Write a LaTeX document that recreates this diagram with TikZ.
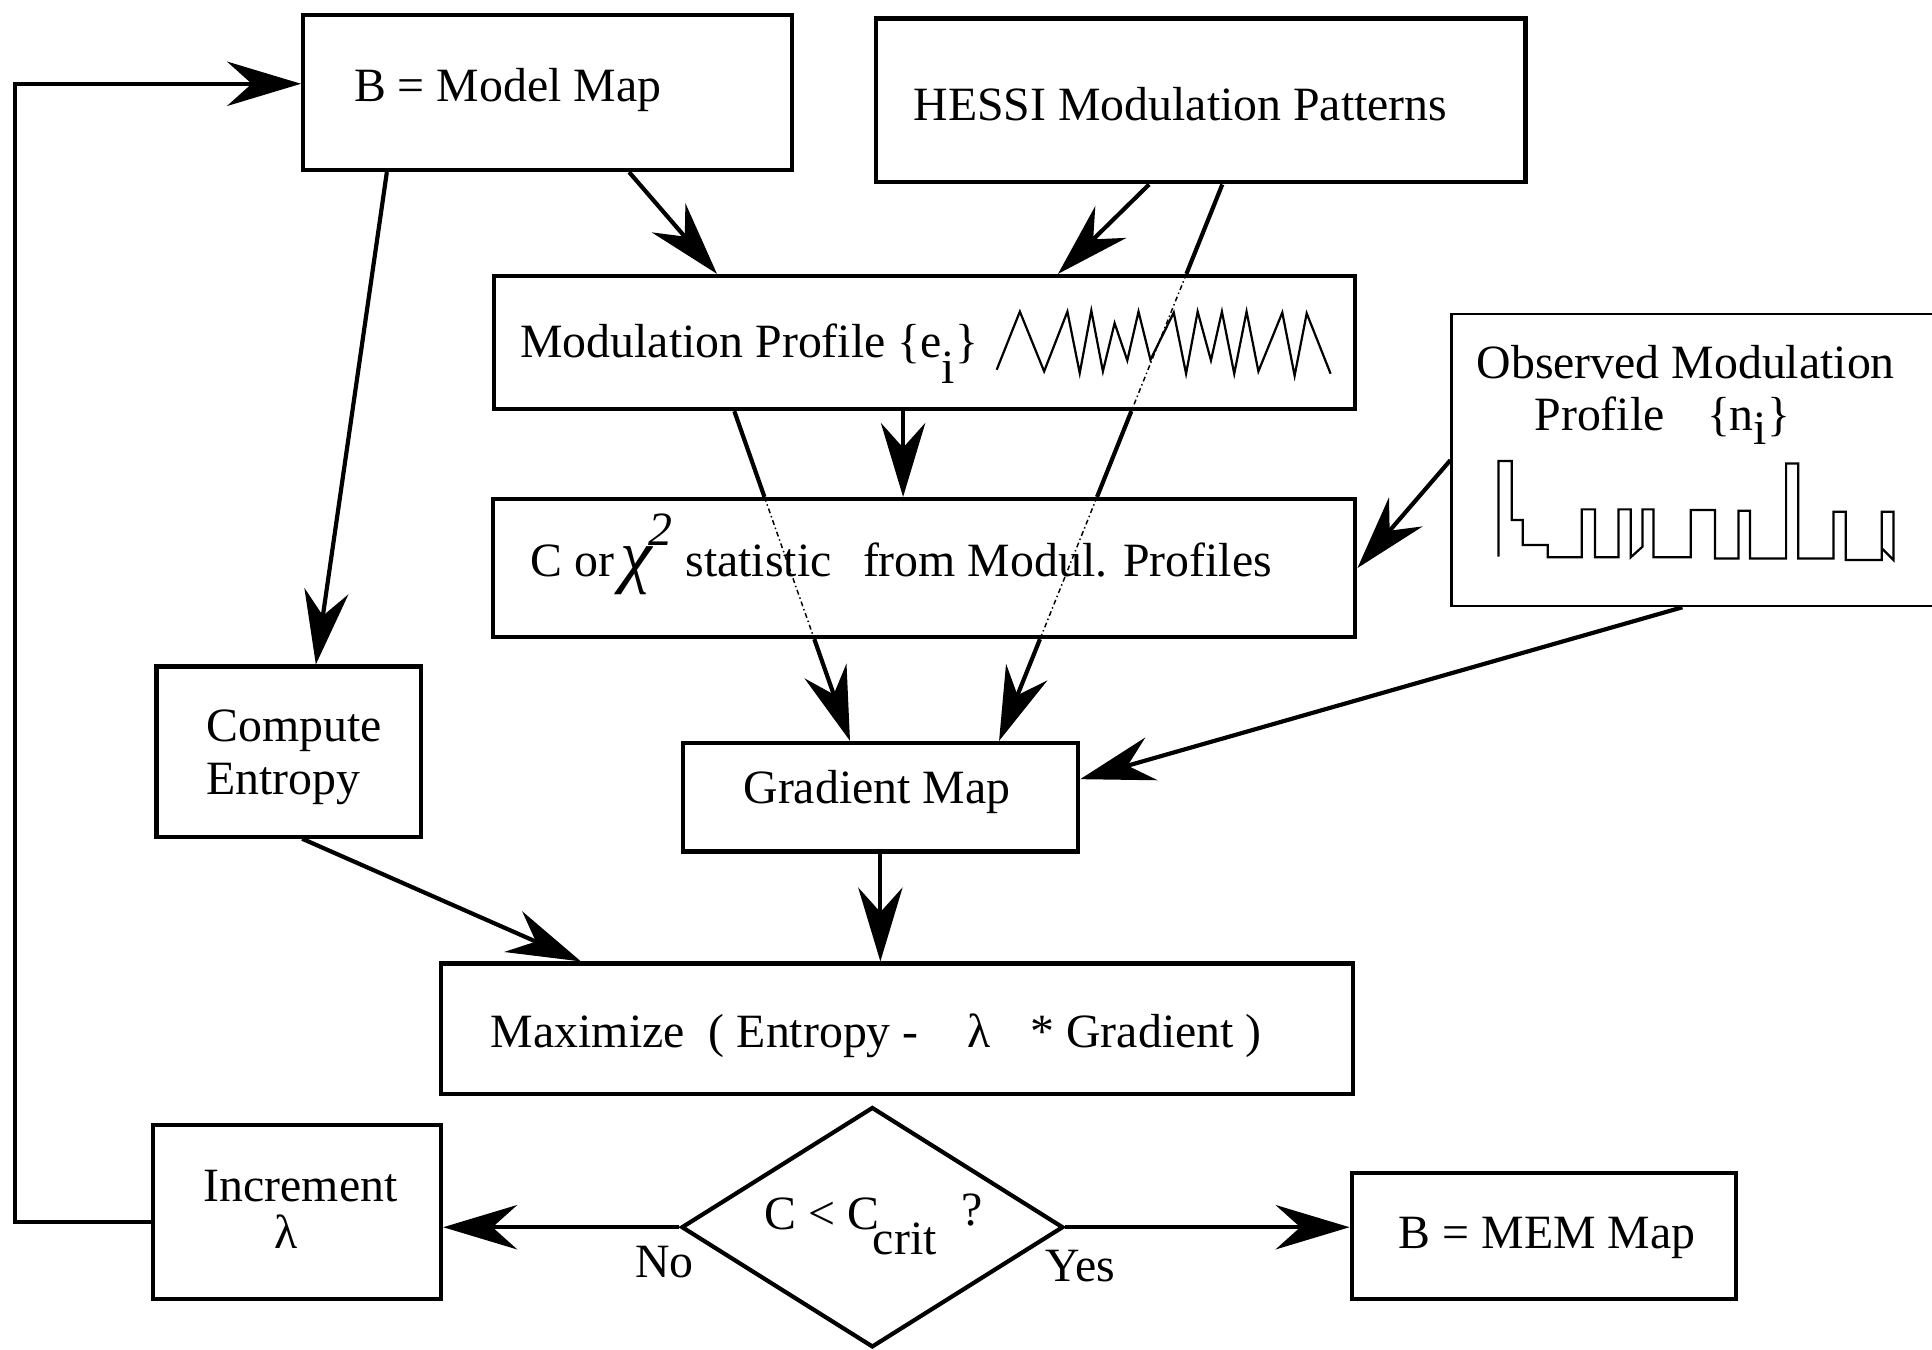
\documentclass[tikz,border=0pt]{standalone}
\usepackage{fontspec}
\setmainfont{Liberation Serif}
\usetikzlibrary{arrows.meta,shapes.geometric,fit,calc}
\newcommand\dfont{\fontsize{19.4pt}{23pt}\selectfont}
\begin{document}
\begin{tikzpicture}[x=0.5pt,y=-0.5pt,
  box/.style={draw,line width=1.7pt,inner sep=0pt},
  thinbox/.style={draw,line width=0.9pt,inner sep=0pt},
  txt/.style={inner sep=0pt,anchor=base west,font=\dfont},
  link/.style={line width=1.7pt},
  arr/.style={line width=1.7pt,-{Stealth[length=30pt,width=18pt,inset=10pt]}},
  dotline/.style={line width=0.6pt,dash pattern=on 2pt off 1.2pt on 0.6pt off 1.2pt},
  sig/.style={line width=0.9pt,line join=miter}]
\useasboundingbox (0,0) rectangle (1568,1095);

% ---------- boxes ----------
\node[box,fit={(246,12) (643,138)}] (mm) {};
\node[box,fit={(711,15) (1238,148)}] (hs) {};
\node[box,fit={(401,224) (1100,332)}] (mp) {};
\node[box,fit={(400,405) (1100,517)}] (cp) {};
\node[thinbox,fit={(1178,255) (1590,492)}] (ob) {};
\node[box,fit={(127,541) (342,679)}] (ce) {};
\node[box,fit={(554,603) (875,691)}] (gm) {};
\node[box,fit={(358,782) (1098,888)}] (mx) {};
\node[box,fit={(124,913) (358,1054)}] (inc) {};
\node[box,fit={(1097,952) (1409,1054)}] (mem) {};
\node[box,diamond,minimum width=155pt,minimum height=97.5pt] (dm) at (708,996) {};

% ---------- texts ----------
\node[txt] (t1) at (287,82) {B = Model Map};
\node[txt] (t2) at (741,98) {HESSI Modulation Patterns};
\node[txt] (t3) at (422,290) {Modulation Profile \{e\raisebox{-0.55em}{i}\}};
\node[txt] (t4a) at (430,468) {C or};
\node[txt] (t4b) at (503,470) {\scalebox{1.5}{\itshape χ}};
\node[txt] (t4c) at (526,443) {\itshape 2};
\node[txt] (t4d) at (556,468) {statistic};
\node[txt] (t4e) at (700,468) {from Modul. Profiles};
\node[txt] (t5a) at (1198,307) {Observed Modulation};
\node[txt] (t5b) at (1245,349) {Profile};
\node[txt] (t5c) at (1385,349) {\{n\raisebox{-0.3em}{i}\}};
\node[txt] (t6a) at (167,602) {Compute};
\node[txt] (t6b) at (167,645) {Entropy};
\node[txt] (t7) at (603,652) {Gradient Map};
\node[txt] (t8a) at (398,850) {Maximize};
\node[txt] (t8b) at (575,850) {( Entropy -};
\node[txt] (t8c) at (785,850) {λ};
\node[txt] (t8d) at (836,850) {* Gradient )};
\node[txt] (t9a) at (165,975) {Increment};
\node[txt] (t9b) at (222,1013) {λ};
\node[txt] (t10a) at (620,998) {C < C};
\node[txt] (t10b) at (708,1018) {crit};
\node[txt] (t10c) at (780,995) {?};
\node[txt] (t11) at (515,1037) {No};
\node[txt] (t12) at (848,1040) {Yes};
\node[txt] (t13) at (1135,1013) {B = MEM Map};

% ---------- signals ----------
\draw[sig] (808.9,300.1) -- (827.7,252.9) -- (847.4,301.4) -- (866.3,252.9)
  -- (876.3,302.8) -- (885.7,252.1) -- (895.1,301.4) -- (904.6,262.3)
  -- (914.9,292.5) -- (924.0,252.9) -- (933.7,292.0) -- (952.6,253.7)
  -- (962.6,303.3) -- (972.0,252.9) -- (982.8,292.5) -- (991.7,252.9)
  -- (1001.7,303.3) -- (1011.7,252.9) -- (1021.3,301.4) -- (1040.7,253.7)
  -- (1050.7,304.9) -- (1060.5,254.3) -- (1079.9,303.3);
\draw[sig] (1216.1,451.8) -- (1216.1,374.2) -- (1226.9,374.2) -- (1226.9,422.0)
  -- (1235.8,422.0) -- (1235.8,442.3) -- (1256.1,442.3) -- (1256.1,452.3)
  -- (1283.7,452.3) -- (1283.7,413.4) -- (1294.5,413.4) -- (1294.5,452.3)
  -- (1313.5,452.3) -- (1313.5,413.4) -- (1323.5,413.4) -- (1323.5,452.3)
  -- (1333.0,443.7) -- (1333.0,413.4) -- (1341.9,413.4) -- (1341.9,452.3)
  -- (1372.2,452.3) -- (1372.2,413.9) -- (1391.9,413.9) -- (1391.9,453.2)
  -- (1410.9,453.2) -- (1410.9,414.5) -- (1420.3,414.5) -- (1420.3,453.2)
  -- (1449.6,453.2) -- (1449.6,376.1) -- (1459.5,376.1) -- (1459.5,453.2)
  -- (1488.0,453.2) -- (1488.0,415.3) -- (1498.0,415.3) -- (1498.0,454.5)
  -- (1527.2,454.5) -- (1527.2,415.3) -- (1536.7,415.3) -- (1536.7,454.5)
  -- (1527.2,445.0);

% ---------- connectors ----------
\coordinate (lp1) at (12,992);
\coordinate (lp2) at (12,68);
\draw[arr] (inc.west |- lp1) -- (lp1) -- (lp2) -- (lp2 -| mm.west);

\draw[arr] ($(mm.south west)!0.174!(mm.south east)$) -- ($(ce.north west)!0.6!(ce.north east)$);
\draw[arr] ($(mm.south west)!0.665!(mm.south east)$) -- ($(mp.north west)!0.26!(mp.north east)$);
\draw[arr] ($(hs.south west)!0.421!(hs.south east)$) -- ($(mp.north west)!0.654!(mp.north east)$);

\coordinate (g0) at ($(mp.south west)!0.475!(mp.south east)$);
\draw[arr] (g0) -- (g0 |- cp.north);

% long right line HESSI -> Gradient Map
\coordinate (L0) at ($(hs.south west)!0.533!(hs.south east)$);
\coordinate (L1) at ($(gm.north west)!0.797!(gm.north east)$);
\coordinate (L0a) at (intersection of L0--L1 and mp.north west--mp.north east);
\coordinate (L0b) at (intersection of L0--L1 and mp.south west--mp.south east);
\coordinate (L0c) at (intersection of L0--L1 and cp.north west--cp.north east);
\coordinate (L0d) at (intersection of L0--L1 and cp.south west--cp.south east);
\draw[link] (L0) -- (L0a);
\draw[dotline] (L0a) -- (L0b);
\draw[link] (L0b) -- (L0c);
\draw[dotline] (L0c) -- (L0d);
\draw[arr] (L0d) -- (L1);

% long left line Modulation Profile -> Gradient Map
\coordinate (L2) at ($(mp.south west)!0.28!(mp.south east)$);
\coordinate (L3) at ($(gm.north west)!0.424!(gm.north east)$);
\coordinate (L2a) at (intersection of L2--L3 and cp.north west--cp.north east);
\coordinate (L2b) at (intersection of L2--L3 and cp.south west--cp.south east);
\draw[link] (L2) -- (L2a);
\draw[dotline] (L2a) -- (L2b);
\draw[arr] (L2b) -- (L3);

\draw[arr] (ob.west) -- (cp.east);
\draw[arr] ($(ob.south west)!0.455!(ob.south east)$) -- ($(gm.north east)!0.34!(gm.south east)$);

\draw[arr] (gm.south) -- (gm.south |- mx.north);
\draw[arr] ($(ce.south west)!0.549!(ce.south east)$) -- ($(mx.north west)!0.155!(mx.north east)$);

\draw[arr] (dm.west) -- (dm.west -| inc.east);
\draw[arr] (dm.east) -- (dm.east -| mem.west);
\end{tikzpicture}
\end{document}
